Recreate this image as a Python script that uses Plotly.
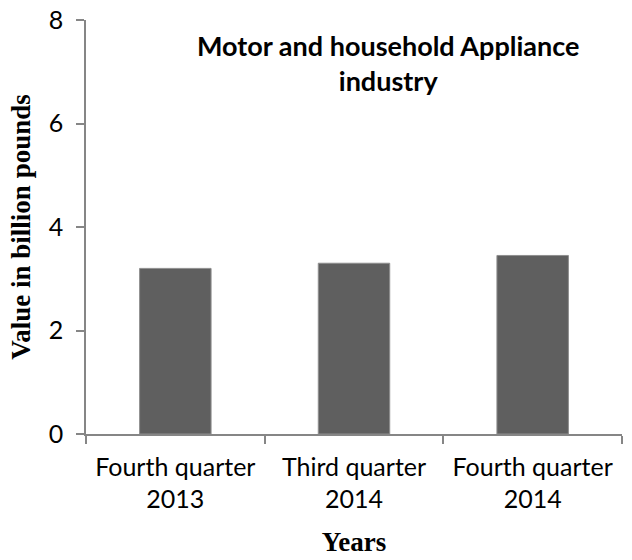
import plotly.graph_objects as go

# data
quarters = ["Fourth quarter<br>2013", "Third quarter<br>2014", "Fourth quarter<br>2014"]
values = [3.2, 3.3, 3.45]
y_ticks = [0, 2, 4, 6, 8]

axis_grey = "#868686"
sans = "Lato, Carlito, Calibri, sans-serif"
serif = "Liberation Serif, Cambria, serif"

fig = go.Figure()

fig.add_trace(go.Bar(
    x=quarters,
    y=values,
    marker=dict(color="#5f5f5f", line=dict(color="#8f8f8f", width=1)),
    width=0.4,
))

# chart title sits inside the plot area
fig.add_annotation(
    text="<b>Motor and household Appliance<br>industry</b>",
    xref="paper", yref="paper", x=0.563, y=0.983,
    xanchor="center", yanchor="top", showarrow=False,
    font=dict(family=sans, size=27, color="black"),
)

fig.update_layout(
    width=632,
    height=560,
    margin=dict(l=86, r=10, t=20, b=126),
    plot_bgcolor="white",
    paper_bgcolor="white",
    showlegend=False,
    bargap=0.6,
    xaxis=dict(
        automargin=False,
        showline=True, linecolor=axis_grey, linewidth=1.5,
        ticks="outside", tickson="boundaries", ticklen=8, tickcolor=axis_grey,
        tickwidth=1.5, showgrid=False, ticklabelstandoff=10,
        tickfont=dict(family=sans, size=25, color="black"),
        title=dict(text="<b>Years</b>", font=dict(family=serif, size=27, color="black"), standoff=20),
    ),
    yaxis=dict(
        automargin=False,
        range=[0, 8], tickvals=y_ticks,
        showline=True, linecolor=axis_grey, linewidth=1.5,
        ticks="outside", ticklen=8, tickcolor=axis_grey, tickwidth=1.5,
        showgrid=False, zeroline=False, ticklabelstandoff=8,
        ticklabeloverflow="allow",
        tickfont=dict(family=sans, size=25, color="black"),
        title=dict(text="<b>Value in billion pounds</b>", font=dict(family=serif, size=27, color="black"), standoff=10),
    ),
)

# drop the browser's default body margin so the figure fills the window
fig.write_html("out.html", config={"displayModeBar": False},
               post_script="document.body.style.margin = '0';")
